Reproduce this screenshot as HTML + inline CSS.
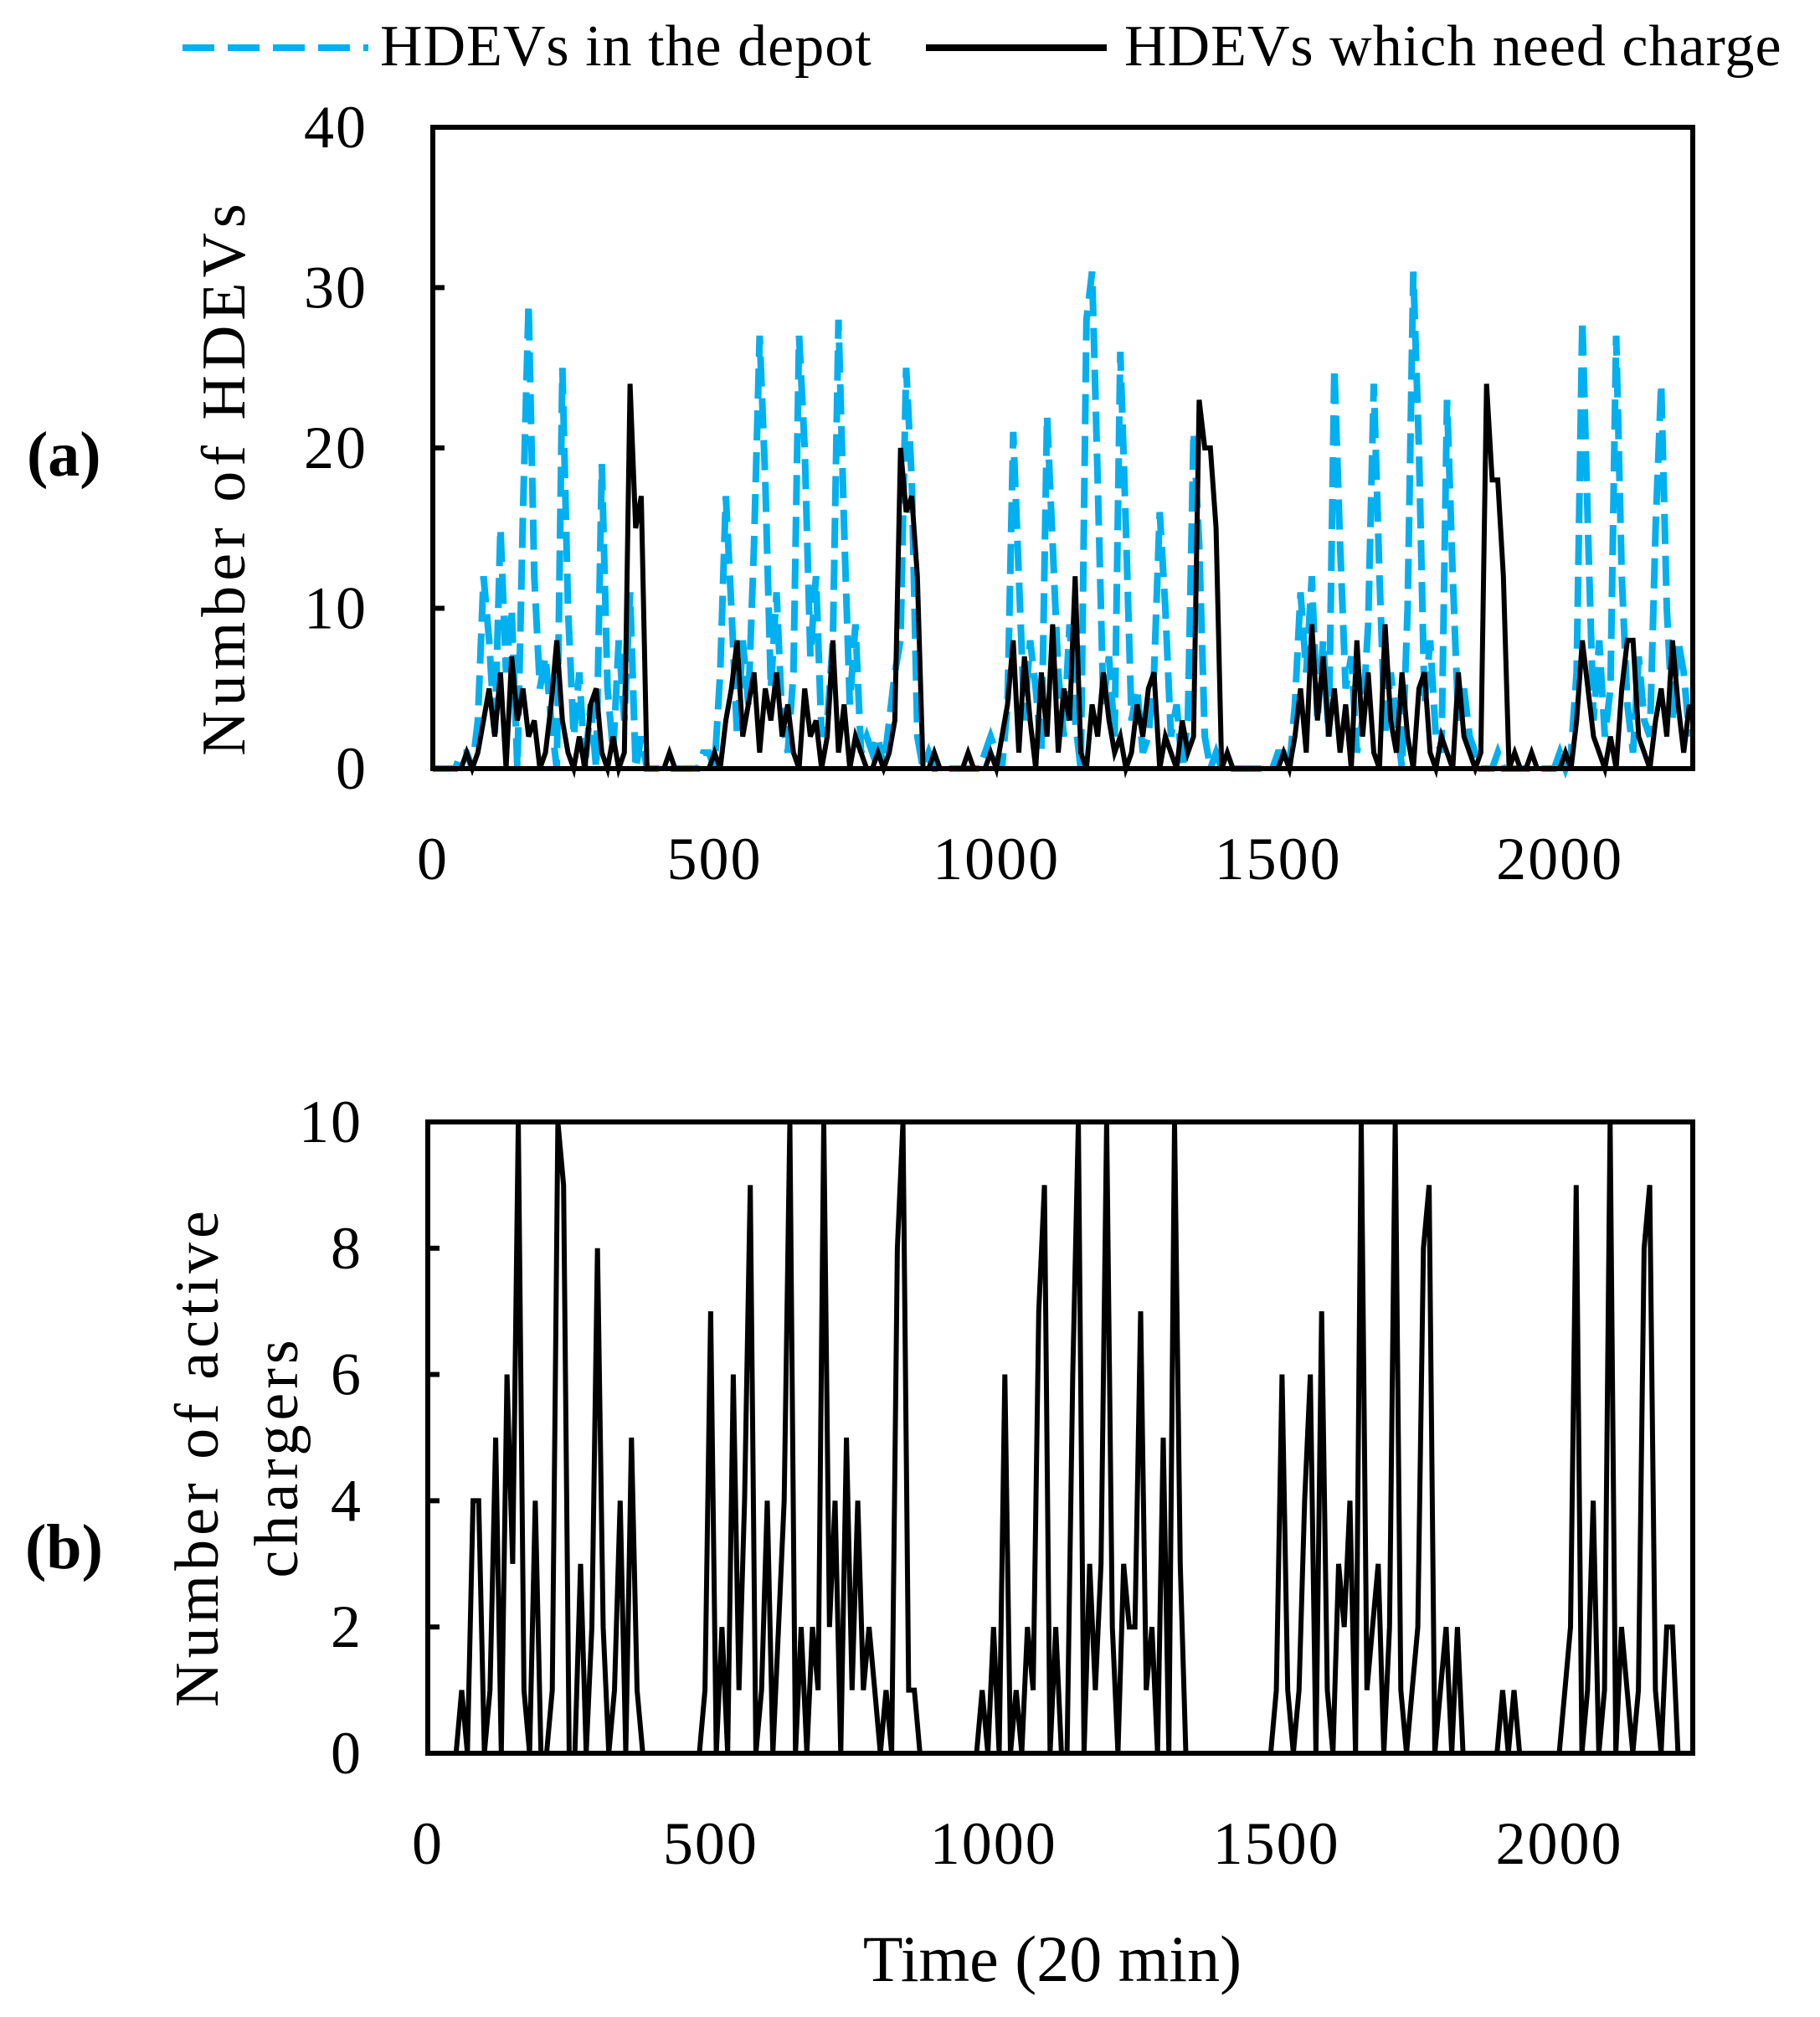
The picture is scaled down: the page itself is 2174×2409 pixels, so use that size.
<!DOCTYPE html>
<html><head><meta charset="utf-8">
<style>
html,body{margin:0;padding:0;background:#fff;}
svg{display:block;}
text{font-family:"Liberation Serif",serif;fill:#000;}
</style></head>
<body>
<svg id="fig" width="2174" height="2409" viewBox="0 0 2174 2409" xmlns="http://www.w3.org/2000/svg">
  <g>
    <line x1="218" y1="57" x2="440" y2="57" stroke="#00b0f0" stroke-width="8" stroke-dasharray="38,16"/>
    <text x="454" y="78" font-size="70" letter-spacing="1">HDEVs in the depot</text>
    <line x1="1106" y1="57" x2="1322" y2="57" stroke="#000" stroke-width="8"/>
    <text x="1343" y="78" font-size="70" letter-spacing="1">HDEVs which need charge</text>
  </g>
  <text x="32" y="568" font-size="76" font-weight="bold">(a)</text>
  <text x="30" y="1873" font-size="76" font-weight="bold">(b)</text>
  <text transform="translate(292,570) rotate(-90)" text-anchor="middle" font-size="74" letter-spacing="6">Number of  HDEVs</text>
  <text transform="translate(260,1740) rotate(-90)" text-anchor="middle" font-size="74" letter-spacing="5">Number of  active</text>
  <text transform="translate(355,1740) rotate(-90)" text-anchor="middle" font-size="74" letter-spacing="5">chargers</text>
  <text x="1257" y="2366" text-anchor="middle" font-size="78">Time (20 min)</text>
  <g id="pa"></g>
  <g id="pb"></g>
</svg>
<script>
const xTicks = [0, 500, 1000, 1500, 2000];
const yTicksA = [0, 10, 20, 30, 40];
const yTicksB = [0, 2, 4, 6, 8, 10];
const timeStep = 10;
const depotCount = [0,0,0,0,0,
1,1,0,3,12,8,2,15,6,10,0,16,29,12,5,7,3,0,25,10,2,6,0,4,0,19,5,1,8,3,11,0,2,0,0,
0,0,0,0,0,0,0,0,
1,1,0,6,17,10,2,8,4,14,27,18,5,11,3,1,6,27,20,7,12,2,3,8,28,15,4,9,1,2,1,2,0,3,6,8,25,18,2,0,1,0,
0,0,0,0,0,0,0,0,
1,2,1,0,4,21,12,3,8,5,1,22,14,6,2,9,3,0,28,31,18,4,7,2,26,15,3,5,1,2,6,16,10,2,4,0,3,21,14,2,0,1,0,0,0,0,
0,0,0,0,0,0,
1,1,0,4,11,6,12,3,8,2,25,14,5,7,1,3,9,24,12,2,6,3,0,10,31,20,4,8,2,1,23,12,3,5,2,1,0,0,0,1,0,0,0,0,
0,0,0,0,0,0,
1,0,1,6,28,15,3,8,2,5,27,12,4,1,7,3,2,15,24,10,3,8,6,2];
const needCharge = [0,0,0,0,0,0,
1,0,1,3,5,2,6,0,7,3,5,2,3,0,1,4,8,3,1,0,2,0,4,5,1,0,2,0,1,24,15,17,0,0,
0,0,1,0,0,0,0,0,
0,0,1,0,3,5,8,2,4,6,1,5,3,6,2,4,1,0,5,2,3,0,2,8,1,4,0,2,1,0,0,1,0,1,3,20,16,17,12,0,0,1,
0,0,0,0,0,1,0,0,
0,1,0,2,4,8,1,7,3,0,6,2,9,1,5,3,12,1,0,4,2,6,3,1,2,0,1,4,2,5,6,0,2,1,0,3,1,2,23,20,20,15,0,1,0,0,
0,0,0,0,0,0,
0,1,0,2,5,1,9,3,7,2,5,1,4,0,8,2,6,1,0,9,3,1,6,2,0,5,6,1,0,2,1,0,6,2,1,0,1,24,18,18,12,0,1,0,
0,1,0,0,0,0,
0,1,0,3,8,5,2,1,0,2,0,5,8,8,2,1,0,3,5,2,8,4,1,4];
const activeChargers = [0,0,0,0,0,0,
1,0,4,4,0,1,5,0,6,3,10,1,0,4,0,0,1,10,9,0,0,3,0,2,8,2,0,1,4,0,5,1,
0,0,0,0,0,0,0,0,0,0,0,
1,7,0,2,0,6,1,4,9,0,1,4,0,2,4,10,0,2,0,2,1,10,2,4,0,5,1,4,1,2,1,0,1,0,8,10,1,1,0,0,
0,0,0,0,0,0,0,0,0,
1,0,2,0,6,0,1,0,2,1,7,9,0,2,0,0,6,10,0,3,1,3,10,2,0,3,2,2,7,1,2,0,5,0,10,3,0,0,0,0,
0,0,0,0,0,0,0,0,0,0,0,0,
1,6,1,0,1,4,6,0,7,1,0,3,2,4,0,10,1,2,3,0,2,10,1,0,1,2,8,9,0,1,2,0,2,0,0,0,0,0,0,0,1,
0,1,0,0,0,0,0,0,0,0,1,
2,9,0,1,4,0,1,10,0,2,1,0,1,8,9,1,0,2,2,0,0,0];

const NS = "http://www.w3.org/2000/svg";
function mk(tag, attrs, parent){const e=document.createElementNS(NS,tag);for(const k in attrs)e.setAttribute(k,attrs[k]);parent.appendChild(e);return e;}

function drawPanel(g, box, yMax, yTicks, series, prefix){
  const xMax = 2236;
  const sx = t => box.l + (t/xMax)*(box.r-box.l);
  const sy = v => box.b - (v/yMax)*(box.b-box.t);
  series.forEach(s=>{
    const pts = s.data.map((v,i)=>sx(i*timeStep).toFixed(1)+","+sy(v).toFixed(1)).join(" ");
    const pl = mk("polyline",{points:pts,fill:"none",stroke:s.color,"stroke-width":s.w,"stroke-linejoin":"miter","stroke-dasharray":s.dash||"none"},g);
    
    
  });
  const fr = mk("rect",{x:box.l,y:box.t,width:box.r-box.l,height:box.b-box.t,fill:"none",stroke:"#000","stroke-width":6},g);
  
  
  yTicks.forEach(v=>{
    const tk = mk("line",{x1:box.l,x2:box.l+14,y1:sy(v),y2:sy(v),stroke:"#000","stroke-width":6},g);
    
    
    const tx = mk("text",{x:box.l-78,y:sy(v)+24,"text-anchor":"end","font-size":72,"letter-spacing":2},g);
    tx.textContent = v;
    
    
  });
  xTicks.forEach(v=>{
    const tx = mk("text",{x:sx(v),y:box.b+132,"text-anchor":"middle","font-size":72,"letter-spacing":2},g);
    tx.textContent = v;
    
    
  });
}
drawPanel(document.getElementById("pa"), {l:517,r:2022,t:152,b:918}, 40, yTicksA, [
  {data:depotCount,color:"#00b0f0",w:8,dash:"36,14",name:"depot-line"},
  {data:needCharge,color:"#000",w:6,name:"need-charge-line"}], "a");
drawPanel(document.getElementById("pb"), {l:511,r:2022,t:1340,b:2094}, 10, yTicksB, [
  {data:activeChargers,color:"#000",w:6,name:"active-chargers-line"}], "b");
</script>
</body></html>
